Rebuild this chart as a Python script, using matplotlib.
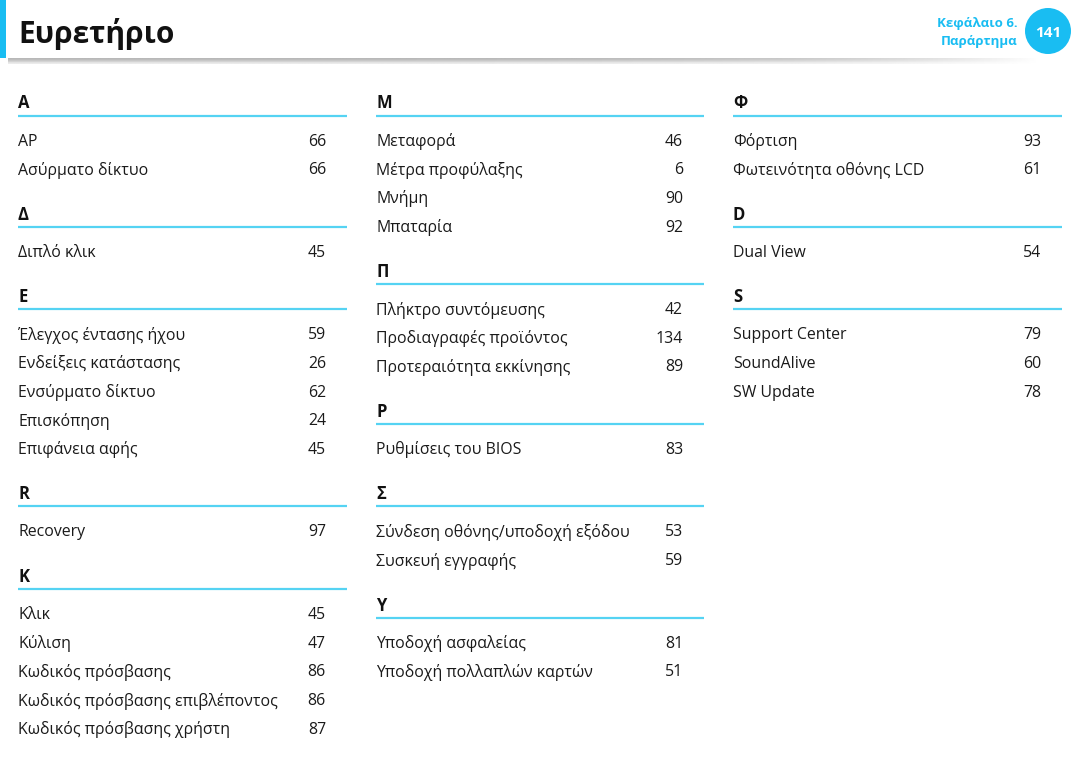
import matplotlib.pyplot as plt
import numpy as np
from matplotlib.patches import Circle, Rectangle

plt.rcParams['font.family'] = ['Open Sans', 'DejaVu Sans']

# Περιεχόμενα ευρετηρίου (ανά στήλη)
col1_letters = ['A', 'Δ', 'E', 'R', 'K']
col1_entries = [
    [('AP', 66), ('Ασύρματο δίκτυο', 66)],
    [('Διπλό κλικ', 45)],
    [('Έλεγχος έντασης ήχου', 59), ('Ενδείξεις κατάστασης', 26),
     ('Ενσύρματο δίκτυο', 62), ('Επισκόπηση', 24), ('Επιφάνεια αφής', 45)],
    [('Recovery', 97)],
    [('Κλικ', 45), ('Κύλιση', 47), ('Κωδικός πρόσβασης', 86),
     ('Κωδικός πρόσβασης επιβλέποντος', 86), ('Κωδικός πρόσβασης χρήστη', 87)],
]
col2_letters = ['M', 'Π', 'P', 'Σ', 'Y']
col2_entries = [
    [('Μεταφορά', 46), ('Μέτρα προφύλαξης', 6), ('Μνήμη', 90), ('Μπαταρία', 92)],
    [('Πλήκτρο συντόμευσης', 42), ('Προδιαγραφές προϊόντος', 134),
     ('Προτεραιότητα εκκίνησης', 89)],
    [('Ρυθμίσεις του BIOS', 83)],
    [('Σύνδεση οθόνης/υποδοχή εξόδου', 53), ('Συσκευή εγγραφής', 59)],
    [('Υποδοχή ασφαλείας', 81), ('Υποδοχή πολλαπλών καρτών', 51)],
]
col3_letters = ['Φ', 'D', 'S']
col3_entries = [
    [('Φόρτιση', 93), ('Φωτεινότητα οθόνης LCD', 61)],
    [('Dual View', 54)],
    [('Support Center', 79), ('SoundAlive', 60), ('SW Update', 78)],
]

title = 'Ευρετήριο'
chapter = 'Κεφάλαιο 6.'
chapter_name = 'Παράρτημα'
page_no = 141

blue = '#19bdf2'
line_blue = '#55d3f3'

fig = plt.figure(figsize=(10.8, 7.66), dpi=100)
ax = fig.add_axes([0, 0, 1, 1])
ax.set_xlim(0, 1080)
ax.set_ylim(766, 0)
ax.axis('off')

# κεφαλίδα
ax.add_patch(Rectangle((0, 0), 6, 58, color=blue, lw=0))
ax.text(18, 34, title, fontsize=21.5, fontweight='bold', va='center', ha='left', color='#111111')
grad = np.linspace(0, 1, 400)
row = 0.72 + 0.28 * (grad ** 5)
shade = np.vstack([row * 0 + 0.72 + 0.28 * (grad ** 5),
                   0.80 + 0.20 * (grad ** 5),
                   0.92 + 0.08 * (grad ** 5)])
ax.imshow(shade, cmap='gray', vmin=0, vmax=1, extent=(8, 1040, 64, 58),
          aspect='auto', interpolation='bilinear')
ax.text(1018, 23, chapter, fontsize=9.5, fontweight='bold', color=blue, ha='right', va='center')
ax.text(1018, 42, chapter_name, fontsize=9.5, fontweight='bold', color=blue, ha='right', va='center')
ax.add_patch(Circle((1048, 31), 23, color=blue, lw=0))
ax.text(1048, 33, str(page_no), fontsize=11, fontweight='bold', color='white', ha='center', va='center')


def draw_column(x0, x_num, x1, letters, entries):
    y = 101
    for letter, items in zip(letters, entries):
        ax.text(x0, y + 2.5, letter, fontsize=12, fontweight='bold', va='center', ha='left', color='#111111')
        ax.plot([x0, x1], [y + 14.5, y + 14.5], color=line_blue, lw=1.6, solid_capstyle='butt')
        y += 14.5 + 23
        for name, page in items:
            ax.text(x0, y + 3, name, fontsize=11.4, va='center', ha='left', color='#1a1a1a')
            ax.text(x_num, y + 3, str(page), fontsize=11.4, va='center', ha='right', color='#1a1a1a')
            y += 28.7
        y += 45 - 28.7


draw_column(18, 326, 347, col1_letters, col1_entries)
draw_column(376, 683, 704, col2_letters, col2_entries)
draw_column(733, 1041, 1062, col3_letters, col3_entries)

fig.savefig('out.png', dpi=100)
